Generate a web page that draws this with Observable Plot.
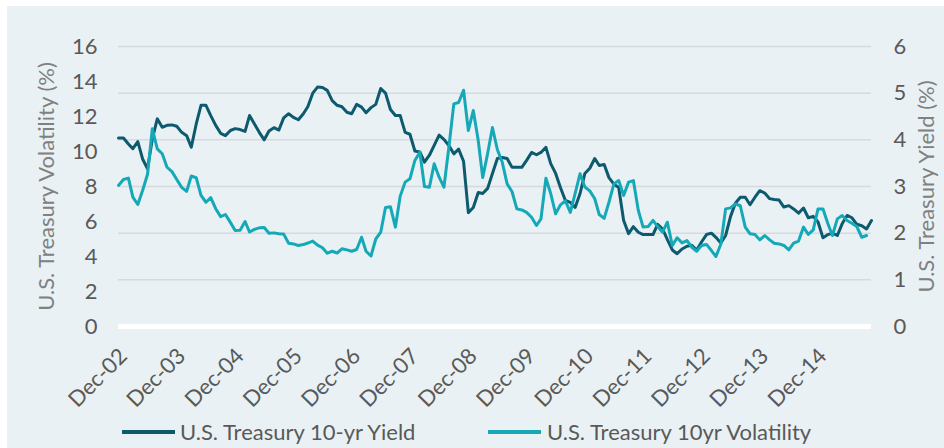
<!DOCTYPE html>
<html><head><meta charset="utf-8">
<script src="https://cdn.jsdelivr.net/npm/d3@7"></script>
<script src="https://cdn.jsdelivr.net/npm/@observablehq/plot@0.6"></script>
<style>
html,body{margin:0;padding:0;background:#fff;}
#panel{position:absolute;left:7px;top:6px;width:937px;height:442px;background:#e9f1f4;font-family:Lato,sans-serif;color:#595959;overflow:hidden;}
#chart{position:absolute;left:0;top:0;}
.sw{position:absolute;height:3.5px;width:53px;}
.lt{position:absolute;font-size:22px;line-height:28px;color:#595959;white-space:nowrap;}
</style></head>
<body><div id="panel"><div id="chart"></div>
<div class="sw" id="sw0" style="left:115px;top:424px;"></div><div class="lt" id="lt0" style="left:173px;top:412px;"></div>
<div class="sw" id="sw1" style="left:481px;top:424px;"></div><div class="lt" id="lt1" style="left:540px;top:412px;"></div>
</div>
<script>
const seriesNames = ["U.S. Treasury 10-yr Yield", "U.S. Treasury 10yr Volatility"];
const seriesColors = ["#0d5a6e", "#15a9b8"];
const tickLabels = ["Dec-02","Dec-03","Dec-04","Dec-05","Dec-06","Dec-07","Dec-08","Dec-09","Dec-10","Dec-11","Dec-12","Dec-13","Dec-14"];
const leftTicks = [0,2,4,6,8,10,12,14,16];
const rightTicks = [0,1,2,3,4,5,6];
const axisTitles = ["U.S. Treasury Volatility (%)", "U.S. Treasury Yield (%)"];

// monthly, Dec-02 .. Nov-15
const yieldPct = [
 4.04,4.04,3.91,3.81,3.96,3.59,3.38,4.02,4.45,4.27,4.31,4.32,
 4.29,4.16,4.09,3.84,4.34,4.74,4.74,4.52,4.31,4.14,4.09,4.20,
 4.24,4.22,4.18,4.52,4.34,4.16,4.00,4.19,4.26,4.21,4.47,4.56,
 4.48,4.43,4.56,4.71,5.00,5.13,5.12,5.06,4.84,4.74,4.71,4.59,
 4.56,4.76,4.70,4.58,4.69,4.76,5.10,5.00,4.65,4.52,4.52,4.16,
 4.12,3.76,3.74,3.52,3.67,3.88,4.10,4.01,3.88,3.70,3.80,3.54,
 2.44,2.55,2.87,2.85,2.96,3.28,3.60,3.62,3.60,3.41,3.41,3.41,
 3.56,3.73,3.68,3.73,3.84,3.49,3.28,2.98,2.70,2.66,2.55,2.85,
 3.28,3.39,3.60,3.45,3.47,3.19,3.05,2.98,2.27,1.99,2.14,2.02,
 1.97,1.97,1.97,2.19,2.09,1.86,1.64,1.56,1.66,1.72,1.74,1.64,
 1.81,1.97,2.00,1.91,1.79,1.95,2.36,2.64,2.77,2.77,2.61,2.77,
 2.91,2.86,2.74,2.72,2.71,2.56,2.59,2.52,2.43,2.54,2.33,2.36,
 2.24,1.90,1.97,2.00,1.95,2.20,2.38,2.33,2.19,2.16,2.09,2.27
];
// monthly, Dec-02 .. Oct-15
const volatilityPct = [
 8.06,8.40,8.48,7.39,6.97,7.77,8.70,11.30,10.15,9.87,9.10,8.85,
 8.40,7.95,7.72,8.60,8.50,7.49,7.10,7.36,6.73,6.28,6.40,5.95,
 5.49,5.50,6.00,5.40,5.55,5.64,5.66,5.33,5.35,5.30,5.28,4.76,
 4.72,4.63,4.68,4.77,4.88,4.65,4.50,4.19,4.30,4.20,4.44,4.38,
 4.30,4.40,5.10,4.30,4.03,5.00,5.39,6.80,6.84,5.68,7.45,8.25,
 8.44,9.49,9.96,8.00,7.96,9.30,8.53,7.96,10.25,12.72,12.80,13.50,
 11.20,12.34,10.63,8.51,9.89,11.37,10.10,9.40,8.15,7.70,6.72,6.66,
 6.52,6.24,5.77,6.15,8.47,7.60,6.44,6.95,7.18,6.52,7.60,8.73,
 7.97,7.75,7.30,6.40,6.18,7.10,8.15,8.34,7.49,8.25,8.34,6.63,
 5.68,5.71,6.06,5.71,5.39,5.96,4.63,5.07,4.78,4.91,4.53,4.30,
 4.63,4.69,4.34,4.00,4.70,6.72,6.78,7.01,6.90,5.68,5.30,5.26,
 4.95,5.20,4.95,4.76,4.72,4.63,4.38,4.76,4.88,5.68,5.26,5.52,
 6.72,6.72,5.87,5.20,6.15,6.34,6.06,5.90,5.71,5.10,5.20
];

const ratio = 16 / 6;
const start = new Date(Date.UTC(2002, 11, 1));
const month = i => d3.utcMonth.offset(start, i);
const yieldData = yieldPct.map((v, i) => ({date: month(i), v: v * ratio}));
const volData = volatilityPct.map((v, i) => ({date: month(i), v}));
const tickDates = tickLabels.map((_, k) => month(12 * k));
const labelFor = d => tickLabels[tickDates.findIndex(t => +t === +d)];

const chart = Plot.plot({
  width: 937, height: 412,
  marginLeft: 111, marginRight: 73, marginTop: 40, marginBottom: 92,
  style: {background: "transparent", fontFamily: "Lato, sans-serif", fontSize: "22px", color: "#595959"},
  x: {type: "utc", domain: [month(0), month(yieldPct.length - 1)]},
  y: {domain: [0, 16]},
  marks: [
    Plot.gridY(rightTicks.map(t => t * ratio), {stroke: "#d6dadc", strokeOpacity: 1, strokeWidth: 1.5}),
    Plot.ruleY([0], {stroke: "#ffffff", strokeWidth: 5}),
    Plot.axisY(leftTicks, {anchor: "left", tickSize: 0, tickPadding: 21, fontSize: 22, fill: "#595959",
      label: axisTitles[0], labelAnchor: "center", labelArrow: "none", labelOffset: 80}),
    Plot.axisY(rightTicks.map(t => t * ratio), {anchor: "right", tickSize: 0, tickPadding: 22, fontSize: 22, fill: "#595959",
      tickFormat: d => String(Math.round(d / ratio)),
      label: axisTitles[1], labelAnchor: "center", labelArrow: "none", labelOffset: 62}),
    Plot.axisX(tickDates, {anchor: "bottom", tickSize: 0, tickRotate: -45, tickPadding: 26, dx: 5, fontSize: 22, fill: "#595959",
      tickFormat: labelFor, label: null}),
    Plot.lineY(yieldData, {x: "date", y: "v", stroke: seriesColors[0], strokeWidth: 3, strokeLinejoin: "round"}),
    Plot.lineY(volData, {x: "date", y: "v", stroke: seriesColors[1], strokeWidth: 3, strokeLinejoin: "round"})
  ]
});
document.getElementById("chart").appendChild(chart);
chart.querySelectorAll("[aria-label='y-axis label'] text").forEach(t => t.setAttribute("fill", "#808080"));
[0, 1].forEach(k => {
  document.getElementById("sw" + k).style.background = seriesColors[k];
  document.getElementById("lt" + k).textContent = seriesNames[k];
});
</script>
</body></html>
